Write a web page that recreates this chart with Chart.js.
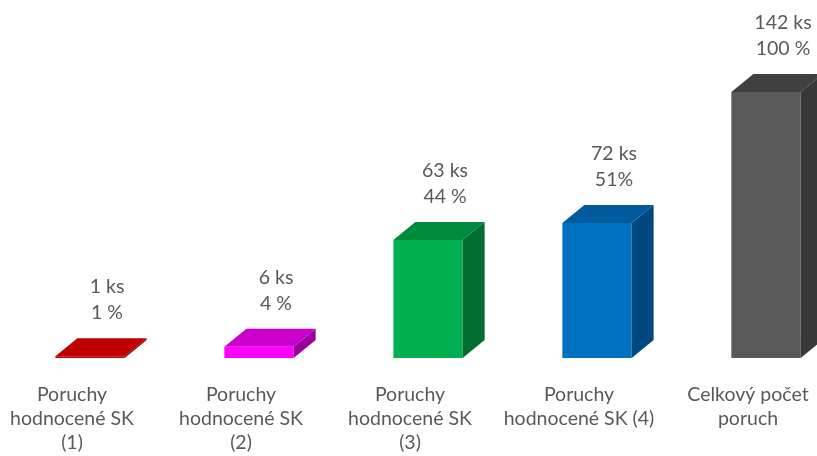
<!DOCTYPE html>
<html>
<head>
<meta charset="utf-8">
<script src="https://cdn.jsdelivr.net/npm/chart.js@4"></script>
<style>
  html, body { margin: 0; padding: 0; overflow: hidden; background: #fff; }
  canvas { display: block; margin-left: -30px; }
</style>
</head>
<body>
<canvas id="chart" width="881" height="456"></canvas>
<script>
// Chart data
const categories = [
    ['Poruchy', 'hodnocené SK', '(1)'],
    ['Poruchy', 'hodnocené SK', '(2)'],
    ['Poruchy', 'hodnocené SK', '(3)'],
    ['Poruchy', 'hodnocené SK (4)'],
    ['Celkový počet', 'poruch']
];
const counts = [1, 6, 63, 72, 142];
const percentLabels = ['1 %', '4 %', '44 %', '51%', '100 %'];

// Face colours of the 3D bars
const frontColors = ['#C00000', '#FF00FF', '#00B050', '#0070C0', '#595959'];
const topColors = ['#C00000', '#CC00CC', '#008A3E', '#005A9E', '#404040'];
const sideColors = ['#900000', '#990099', '#006E2F', '#00487F', '#383838'];

const FONT = 'Lato, "Open Sans", sans-serif';
const FONT_SIZE = 19.5;
const TEXT_COLOR = '#595959';
const DEPTH_X = 22;
const DEPTH_Y = 18;
// the 3D bars sit a bit right of their category label (perspective)
const BAR_SHIFT = 0.1065;

// Draws the top and side faces and the value labels of each bar
const bar3dPlugin = {
    id: 'bar3d',
    afterDatasetsDraw(chart) {
        const ctx = chart.ctx;
        const meta = chart.getDatasetMeta(0);
        ctx.save();
        meta.data.forEach((bar, i) => {
            const { x, y, base, width } = bar.getProps(['x', 'y', 'base', 'width'], true);
            const left = x - width / 2;
            const right = x + width / 2;

            // top face
            ctx.fillStyle = topColors[i];
            ctx.beginPath();
            ctx.moveTo(left, y);
            ctx.lineTo(left + DEPTH_X, y - DEPTH_Y);
            ctx.lineTo(right + DEPTH_X, y - DEPTH_Y);
            ctx.lineTo(right, y);
            ctx.closePath();
            ctx.fill();

            // side face
            ctx.fillStyle = sideColors[i];
            ctx.beginPath();
            ctx.moveTo(right, y);
            ctx.lineTo(right + DEPTH_X, y - DEPTH_Y);
            ctx.lineTo(right + DEPTH_X, base - DEPTH_Y);
            ctx.lineTo(right, base);
            ctx.closePath();
            ctx.fill();

            // value labels
            ctx.fillStyle = TEXT_COLOR;
            ctx.font = FONT_SIZE + 'px ' + FONT;
            ctx.textAlign = 'center';
            ctx.textBaseline = 'middle';
            const lx = x + DEPTH_X / 2 + 6;
            const topY = y - DEPTH_Y;
            ctx.fillText(counts[i] + ' ks', lx, topY - 51);
            ctx.fillText(percentLabels[i], lx, topY - 25);
        });
        ctx.restore();
    }
};

const ctx = document.getElementById('chart').getContext('2d');
new Chart(ctx, {
    type: 'bar',
    data: {
        labels: categories,
        datasets: [{
            xAxisID: 'xBars',
            data: counts.map((v, i) => ({ x: i, y: v })),
            backgroundColor: frontColors,
            borderWidth: 0,
            categoryPercentage: 1,
            barPercentage: 0.41
        }]
    },
    options: {
        responsive: false,
        animation: false,
        layout: {
            padding: { left: 17.5, right: 18.5, top: 2, bottom: -24 }
        },
        scales: {
            x: {
                type: 'category',
                position: 'bottom',
                offset: true,
                grid: { display: false, drawTicks: false },
                border: { display: false },
                ticks: {
                    color: TEXT_COLOR,
                    padding: 25,
                    maxRotation: 0,
                    autoSkip: false,
                    font: { family: FONT, size: FONT_SIZE, lineHeight: '24px' }
                }
            },
            xBars: {
                type: 'linear',
                position: 'bottom',
                display: false,
                offset: false,
                min: -0.5 - BAR_SHIFT,
                max: categories.length - 0.5 - BAR_SHIFT,
                ticks: { stepSize: 1, includeBounds: false }
            },
            y: {
                display: false,
                min: 0,
                max: 190
            }
        },
        plugins: {
            legend: { display: false },
            tooltip: { enabled: false }
        }
    },
    plugins: [bar3dPlugin]
});
</script>
</body>
</html>
